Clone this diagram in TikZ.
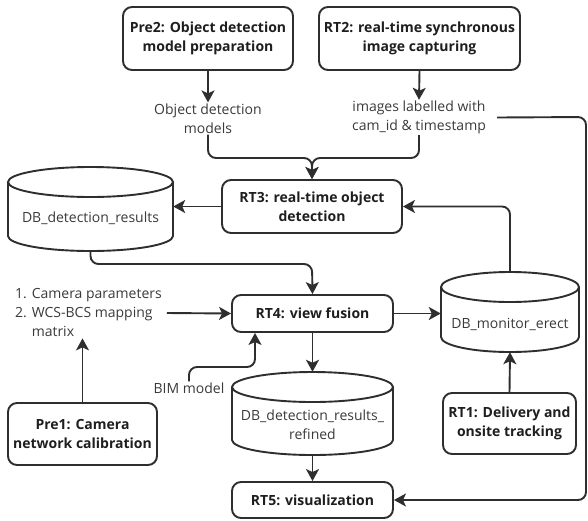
\documentclass[tikz,border=0pt]{standalone}
\usepackage{fontspec}
\setmainfont{Open Sans}
\usetikzlibrary{arrows.meta}
\definecolor{ln}{HTML}{2E2E2E}
\definecolor{tx}{HTML}{3A3A3A}
\definecolor{bx}{HTML}{1E1E1E}
\tikzset{
  proc/.style={draw=ln, line width=1.9pt, rounded corners=9pt, align=center,
    font=\fontsize{14}{19}\selectfont\bfseries, text=bx, inner sep=0pt},
  lbl/.style={align=center, font=\fontsize{14}{19}\selectfont, text=tx, inner sep=1pt},
  dbbox/.style={inner sep=0pt},
  conn/.style={draw=ln, line width=1.9pt, rounded corners=8pt},
  arr/.style={conn, -{Stealth[width=13pt,length=12pt,inset=3pt]}},
  cyl/.style={draw=ln, line width=1.9pt},
}
\begin{document}
\begin{tikzpicture}[x=1pt,y=-1pt]
\useasboundingbox (0,0) rectangle (588,520);

% process boxes
\node[proc, minimum width=170pt, minimum height=63pt] (pre2) at (208,38.5) {Pre2: Object detection\\model preparation};
\node[proc, minimum width=201pt, minimum height=63pt] (rt2) at (419.5,38.5) {RT2: real-time synchronous\\image capturing};
\node[proc, minimum width=180pt, minimum height=53pt] (rt3) at (312,206.5) {RT3: real-time object\\detection};
\node[proc, minimum width=161pt, minimum height=37pt] (rt4) at (312.5,313.5) {RT4: view fusion};
\node[proc, minimum width=161pt, minimum height=36pt] (rt5) at (312.5,500) {RT5: visualization};
\node[proc, minimum width=149pt, minimum height=62pt] (pre1) at (82.5,434) {Pre1: Camera\\network calibration};
\node[proc, minimum width=133pt, minimum height=61pt] (rt1) at (509.5,423.5) {RT1: Delivery and\\onsite tracking};

% cylinders
\node[dbbox, minimum width=165pt, minimum height=84pt] (dbdet) at (90.5,209) {};
\draw[cyl] (8,182) -- (8,236) arc[start angle=180, end angle=360, x radius=82.5pt, y radius=15pt] -- (173,182);
\draw[cyl] (90.5,182) ellipse [x radius=82.5pt, y radius=15pt];
\node[lbl] (dbdett) at (90.5,218) {DB\_detection\_results};

\node[dbbox, minimum width=138pt, minimum height=80pt] (dbmon) at (510,312) {};
\draw[cyl] (441,287) -- (441,337) arc[start angle=180, end angle=360, x radius=69pt, y radius=15pt] -- (579,287);
\draw[cyl] (510,287) ellipse [x radius=69pt, y radius=15pt];
\node[lbl] (dbmont) at (510,324) {DB\_monitor\_erect};

\node[dbbox, minimum width=161pt, minimum height=83pt] (dbref) at (312.5,413.5) {};
\draw[cyl] (232,387) -- (232,440) arc[start angle=180, end angle=360, x radius=80.5pt, y radius=15pt] -- (393,387);
\draw[cyl] (312.5,387) ellipse [x radius=80.5pt, y radius=15pt];
\node[lbl] (dbreft) at (312.5,424.5) {DB\_detection\_results\_\\refined};

% labels
\node[lbl] (odm) at (208,118.5) {Object detection\\models};
\node[lbl] (imgl) at (419,117.5) {images labelled with\\cam\_id \& timestamp};
\node[lbl, align=left, anchor=west] (cam) at (14,313) {1. Camera parameters\\2. WCS-BCS mapping\\\phantom{2. }matrix};
\node[lbl] (bim) at (189,388) {BIM model};

% junctions
\coordinate (j1) at (312,158);
\coordinate (j2) at (312,264);
\coordinate (j3) at (255,367);
\coordinate (rc1) at (586,117);
\coordinate (rc2) at (586,500);

% connectors
\draw[arr] (pre2.south) -- (odm.north);
\draw[arr] (rt2.south) -- (imgl.north);
\draw[arr] (odm.south) |- (j1) -- (rt3.north);
\draw[arr] (imgl.south) |- (j1) -- (rt3.north);
\draw[arr] ([xshift=10pt]imgl.east) -- (rc1) -- (rc2) -- (rt5.east);
\draw[arr] (rt3.west) -- (rt3.west -| dbdet.east);
\draw[arr] (dbdet.south) |- (j2) -- (rt4.north);
\draw[arr] (dbmon.north) |- (rt3.east);
\draw[arr] (rt4.east) -- (rt4.east -| dbmon.west);
\draw[arr] (rt1.north) -- (dbmon.south);
\draw[arr] ([xshift=4pt]cam.east) -- (rt4.west);
\draw[arr] (pre1.north) -- (pre1.north |- cam.south);
\draw[arr] (bim.north) |- (j3) -- (rt4.south -| j3);
\draw[arr] (rt4.south) -- (dbref.north);
\draw[arr] (dbref.south) -- (rt5.north);
\end{tikzpicture}
\end{document}
